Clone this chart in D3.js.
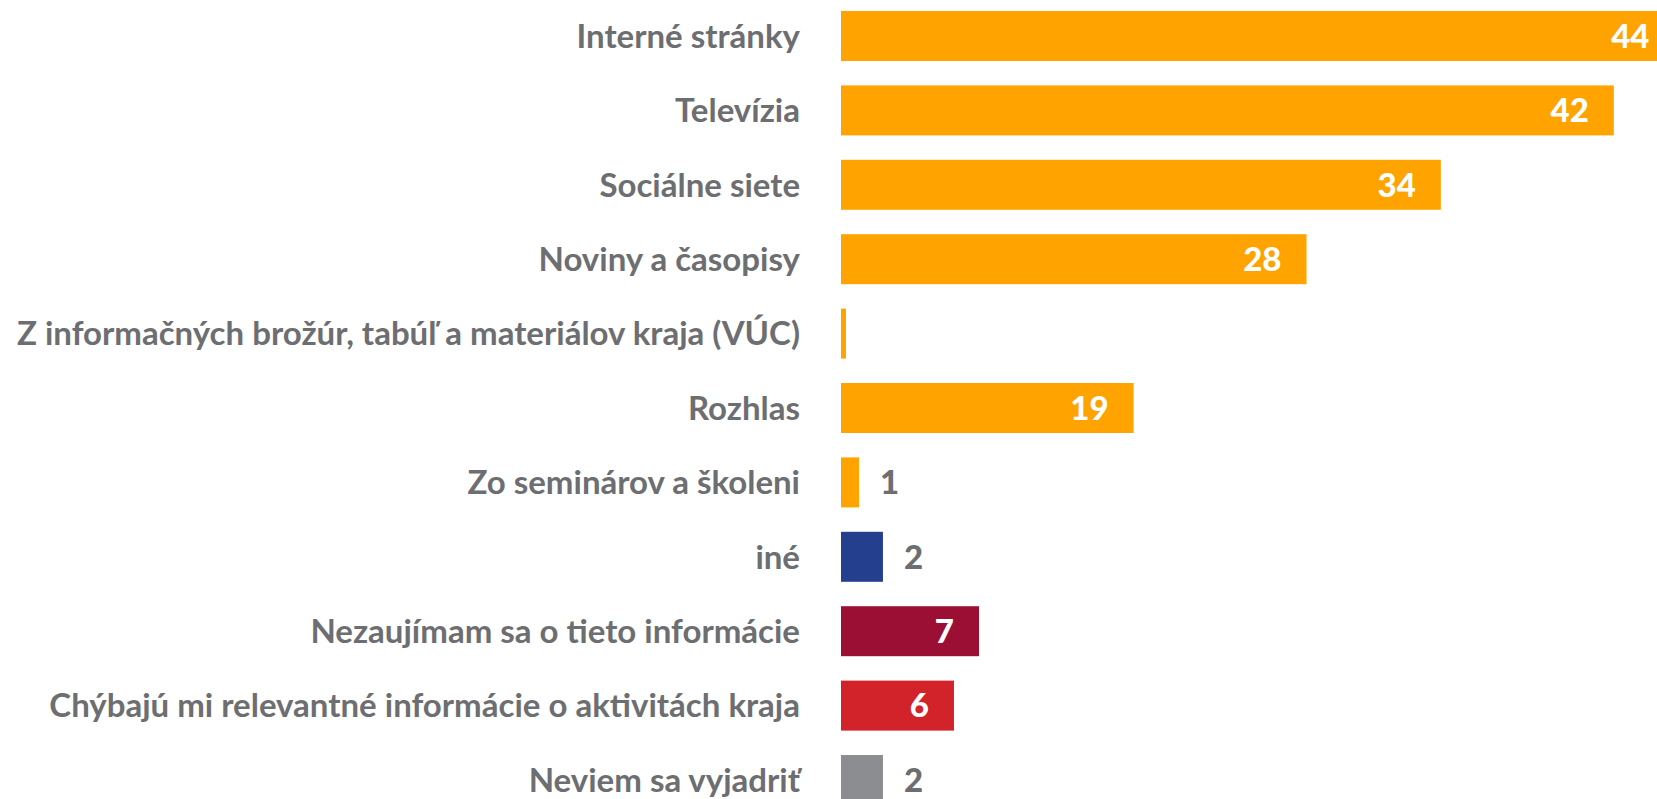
<!DOCTYPE html>
<html>
<head>
<meta charset="utf-8">
<script src="https://cdn.jsdelivr.net/npm/d3@7"></script>
<style>
  html, body { margin: 0; padding: 0; background: #fff; overflow: hidden; }
</style>
</head>
<body>
<svg id="chart" width="1657" height="799"></svg>
<script>
// categories, top to bottom
var categories = [
  "Interné stránky",
  "Televízia",
  "Sociálne siete",
  "Noviny a časopisy",
  "Z informačných brožúr, tabúľ a materiálov kraja (VÚC)",
  "Rozhlas",
  "Zo seminárov a školeni",
  "iné",
  "Nezaujímam sa o tieto informácie",
  "Chýbajú mi relevantné informácie o aktivitách kraja",
  "Neviem sa vyjadriť"
];
// bar lengths
var values = [45.3, 42.0, 32.6, 25.3, 0.27, 15.9, 0.98, 2.28, 7.5, 6.14, 2.28];
// printed labels
var labels = ["44", "42", "34", "28", "", "19", "1", "2", "7", "6", "2"];
var colors = ["#ffa300", "#ffa300", "#ffa300", "#ffa300", "#ffa300", "#ffa300",
              "#ffa300", "#243f8e", "#9b0f35", "#d2232a", "#8c8d91"];

var svg = d3.select("#chart");
var left = 841;

var x = d3.scaleLinear().domain([0, 45]).range([0, 828]);
// step 74.4, bar height 50
var y = d3.scaleBand().domain(categories).range([11, 11 + 74.4 * 10 + 50])
  .paddingInner(0.328).paddingOuter(0);

var g = svg.append("g").attr("transform", "translate(" + left + ",0)");

var font = "Lato, 'Open Sans', sans-serif";

// category labels
svg.append("g")
  .selectAll("text")
  .data(categories)
  .enter()
  .append("text")
  .attr("x", left - 41)
  .attr("y", function (d) { return y(d) + y.bandwidth() / 2; })
  .attr("dy", "0.36em")
  .attr("text-anchor", "end")
  .style("font-family", font)
  .style("font-weight", 700)
  .style("font-size", "33px")
  .style("fill", "#6d6e71")
  .text(function (d) { return d; });

// bars
g.selectAll("rect")
  .data(values)
  .enter()
  .append("rect")
  .attr("x", 0)
  .attr("y", function (d, i) { return y(categories[i]); })
  .attr("width", function (d) { return x(d); })
  .attr("height", y.bandwidth())
  .style("fill", function (d, i) { return colors[i]; });

// value labels: inside for long bars, outside for short ones
g.selectAll(".val")
  .data(values)
  .enter()
  .append("text")
  .attr("class", "val")
  .attr("x", function (d) { return d > 5 ? x(d) - 25 : x(d) + 21; })
  .attr("y", function (d, i) { return y(categories[i]) + y.bandwidth() / 2; })
  .attr("dy", "0.36em")
  .attr("text-anchor", function (d) { return d > 5 ? "end" : "start"; })
  .style("font-family", font)
  .style("font-weight", 900)
  .style("font-size", "33px")
  .style("fill", function (d) { return d > 5 ? "#ffffff" : "#6d6e71"; })
  .text(function (d, i) { return labels[i]; });
</script>
</body>
</html>
